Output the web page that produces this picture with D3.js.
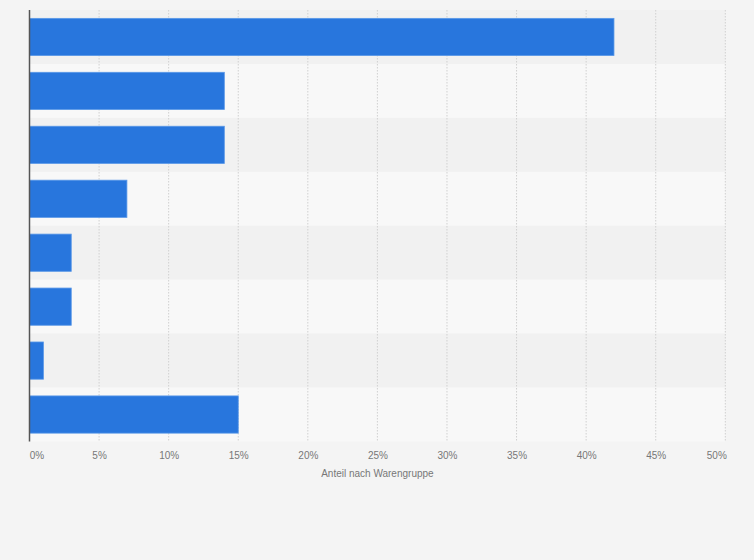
<!DOCTYPE html>
<html><head><meta charset="utf-8">
<script src="https://cdn.jsdelivr.net/npm/d3@7/dist/d3.min.js"></script>
<style>
html,body{margin:0;padding:0;background:#f4f4f4;}
svg{display:block;}
</style></head>
<body>
<svg id="c" width="754" height="560"></svg>
<script>
const categories = ["Kategorie 1","Kategorie 2","Kategorie 3","Kategorie 4","Kategorie 5","Kategorie 6","Kategorie 7","Kategorie 8"];
const values = [42, 14, 14, 7, 3, 3, 1, 15];
const tickValues = [0,5,10,15,20,25,30,35,40,45,50];
const axisTitle = "Anteil nach Warengruppe";

(function(){
const svg = d3.select("#c");
const mLeft = 29.5, mRight = 725.3, mTop = 10, mBottom = 441.5;
const x = d3.scaleLinear().domain([0,50]).range([mLeft,mRight]);
const y = d3.scaleBand().domain(categories).range([mTop,mBottom]).paddingInner(0).paddingOuter(0);
const yb = d3.scaleBand().domain(categories).range([mTop,mBottom]).paddingInner(0.31).paddingOuter(0.155);
const font = "'Liberation Sans', Arial, sans-serif";

// bands
svg.append("g").selectAll("rect").data(categories).join("rect")
  .attr("x", mLeft).attr("width", mRight-mLeft)
  .attr("y", d=>y(d)).attr("height", y.bandwidth())
  .attr("fill", (d,i)=> i%2===0 ? "#f1f1f1" : "#f8f8f8");

// grid
svg.append("g").selectAll("line").data(tickValues.slice(1)).join("line")
  .attr("x1", d=>x(d)).attr("x2", d=>x(d))
  .attr("y1", mTop).attr("y2", mBottom)
  .attr("stroke", "#d0d0d0").attr("stroke-width", 1)
  .attr("stroke-dasharray", "1.5,1.5");

// bars
svg.append("g").selectAll("rect").data(values).join("rect")
  .attr("x", x(0)).attr("width", d=>x(d)-x(0))
  .attr("y", (d,i)=>yb(categories[i])).attr("height", yb.bandwidth())
  .attr("fill", "#2876dd")
  .attr("stroke", "#5a98e8").attr("stroke-width", 0.8);

// axis line
svg.append("line").attr("x1", mLeft).attr("x2", mLeft).attr("y1", mTop).attr("y2", mBottom)
  .attr("stroke", "#555").attr("stroke-width", 1.5);

// x axis
const xAxis = d3.axisBottom(x).tickValues(tickValues).tickFormat(d=>d+"%").tickSize(0).tickPadding(0);
const ax = svg.append("g").attr("transform", `translate(0,${mBottom})`).call(xAxis);
ax.select(".domain").remove();
ax.selectAll("text")
  .attr("y", 14.5).attr("dy", "0.32em")
  .attr("font-family", font).attr("font-size", 10)
  .attr("fill", "#777");
ax.selectAll(".tick").filter(d=>d===0).select("text").attr("dx", 7);
ax.selectAll(".tick").filter(d=>d===50).select("text").attr("dx", -9);

svg.append("text").attr("x", (mLeft+mRight)/2).attr("y", 474).attr("dy","0.32em")
  .attr("text-anchor","middle")
  .attr("font-family", font).attr("font-size", 10)
  .attr("fill","#777").text(axisTitle);
})();
</script>
</body></html>
